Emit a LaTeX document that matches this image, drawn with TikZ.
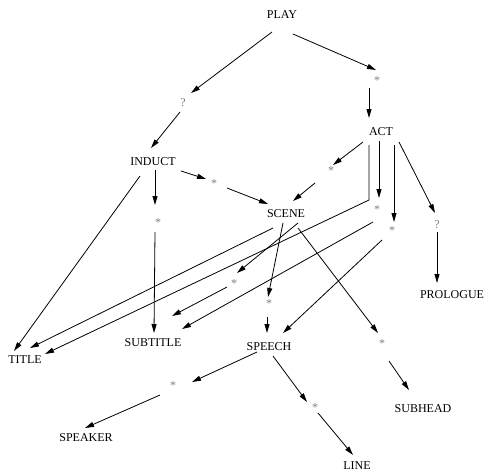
\documentclass[tikz,border=0pt]{standalone}
\usepackage{fontspec}
\setmainfont{Liberation Serif}
\usetikzlibrary{arrows.meta}

\begin{document}
\begin{tikzpicture}[x=1pt, y=-1pt, line width=0.8pt, >={Triangle[length=9pt,width=5pt]},
  elem/.style = {font=\fontsize{12}{12}\selectfont, inner sep=0pt},
  occ/.style = {font=\fontsize{12}{12}\selectfont, text=gray, inner sep=0pt, text height=0.96em, text depth=0pt}]
\useasboundingbox (0,0) rectangle (484,472);

\node[elem] (play) at (282,15) {PLAY};
\node[occ] (qinduct) at (183,102) {?};
\node[occ] (sact) at (377,80) {*};
\node[elem] (act) at (381,132) {ACT};
\node[elem] (induct) at (153,162) {INDUCT};
\node[occ] (sscenei) at (214,183) {*};
\node[occ] (ssubtitlei) at (158,222) {*};
\node[occ] (ssceneact) at (331,170) {*};
\node[elem] (scene) at (286,214) {SCENE};
\node[occ] (ssubtitlea) at (377,209) {*};
\node[occ] (sspeecha) at (392,230) {*};
\node[occ] (qprologue) at (437,224) {?};
\node[elem] (prologue) at (452,295) {PROLOGUE};
\node[occ] (ssubtitles) at (234,283) {*};
\node[occ] (sspeechs) at (269,303) {*};
\node[occ] (ssubhead) at (382,343) {*};
\node[elem] (title) at (25,360) {TITLE};
\node[elem] (subtitle) at (153,343) {SUBTITLE};
\node[elem] (speech) at (269,347) {SPEECH};
\node[elem] (subhead) at (423,409) {SUBHEAD};
\node[occ] (sspeaker) at (173,385) {*};
\node[elem] (speaker) at (86,438) {SPEAKER};
\node[occ] (sline) at (315,407) {*};
\node[elem] (line) at (357,466) {LINE};

% play
\draw[->] ([shift={(-10,17)}]play.center) -- ([shift={(8,-9)}]qinduct.center);
\draw[->] ([shift={(11,19)}]play.center) -- ([shift={(-1,-10)}]sact.center);
\draw[->] ([shift={(-8,8)}]sact.center) -- ([shift={(-12,-14)}]act.center);
\draw[->] ([shift={(-3,10)}]qinduct.center) -- ([shift={(-2,-14)}]induct.center);
% induct
\draw[->] ([shift={(28,9)}]induct.center) -- ([shift={(-8,-4)}]sscenei.center);
\draw[->] ([shift={(13,5)}]sscenei.center) -- ([shift={(-18,-10)}]scene.center);
\draw[->] ([shift={(2,8)}]induct.center) -- ([shift={(-3,-17)}]ssubtitlei.center);
\draw[->] ([shift={(-3,10)}]ssubtitlei.center) -- ([shift={(1,-10)}]subtitle.center);
\draw[->] ([shift={(-13,14)}]induct.center) -- ([shift={(-11,-9)}]title.center);
% act
\draw[->] ([shift={(-18,10)}]act.center) -- ([shift={(2,-5)}]ssceneact.center);
\draw[->] ([shift={(-16,13)}]ssceneact.center) -- ([shift={(7,-13)}]scene.center);
\draw[->] ([shift={(-12,13)}]act.center) -- ([shift={(-12,68)}]act.center) -- ([shift={(20,-6)}]title.center);
\draw[->] ([shift={(-2,9)}]act.center) -- ([shift={(2,-11)}]ssubtitlea.center);
\draw[->] ([shift={(-4,13)}]ssubtitlea.center) -- ([shift={(29,-14)}]subtitle.center);
\draw[->] ([shift={(13,13)}]act.center) -- ([shift={(2,-8)}]sspeecha.center);
\draw[->] ([shift={(-10,10)}]sspeecha.center) -- ([shift={(14,-14)}]speech.center);
\draw[->] ([shift={(18,10)}]act.center) -- ([shift={(-2,-11)}]qprologue.center);
\draw[->] ([shift={(0,8)}]qprologue.center) -- ([shift={(-15,-12)}]prologue.center);
% scene
\draw[->] ([shift={(-13,14)}]scene.center) -- ([shift={(5,-12)}]title.center);
\draw[->] ([shift={(12,9)}]scene.center) -- ([shift={(3,-10)}]ssubtitles.center);
\draw[->] ([shift={(-7,4)}]ssubtitles.center) -- ([shift={(19,-27)}]subtitle.center);
\draw[->] ([shift={(-3,9)}]scene.center) -- ([shift={(-1,-6)}]sspeechs.center);
\draw[->] ([shift={(-2,14)}]sspeechs.center) -- ([shift={(-2,-14)}]speech.center);
\draw[->] ([shift={(12,14)}]scene.center) -- ([shift={(-4,-10)}]ssubhead.center);
\draw[->] ([shift={(7,18)}]ssubhead.center) -- ([shift={(-14,-19)}]subhead.center);
% speech
\draw[->] ([shift={(-12,5)}]speech.center) -- ([shift={(19,-3)}]sspeaker.center);
\draw[->] ([shift={(-13,10)}]sspeaker.center) -- ([shift={(-1,-10)}]speaker.center);
\draw[->] ([shift={(4,9)}]speech.center) -- ([shift={(-8,-5)}]sline.center);
\draw[->] ([shift={(3,6)}]sline.center) -- ([shift={(-4,-11)}]line.center);
\end{tikzpicture}
\end{document}
